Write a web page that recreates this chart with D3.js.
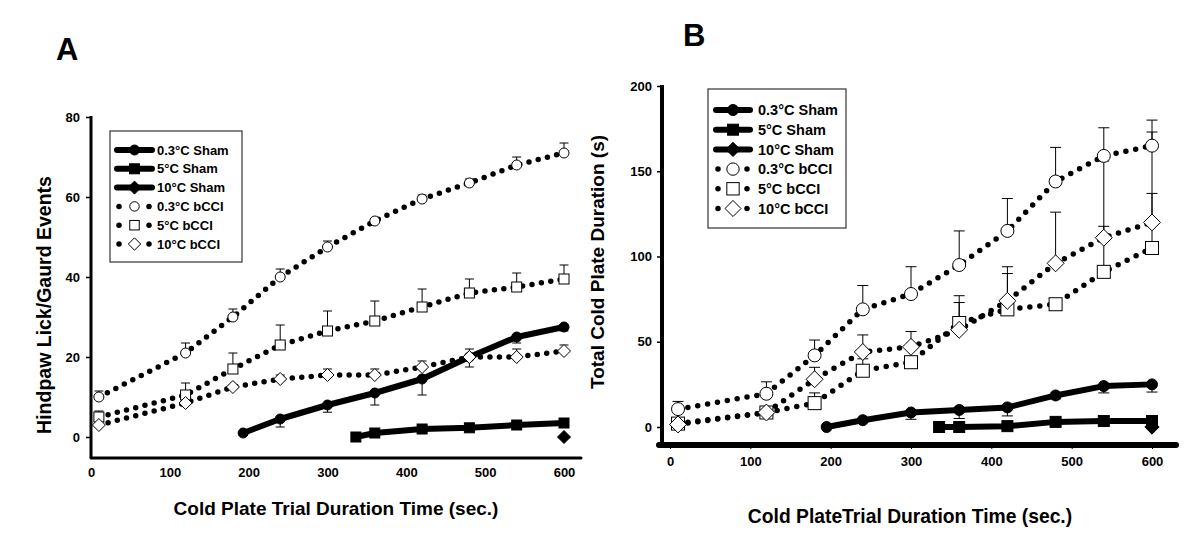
<!DOCTYPE html>
<html><head><meta charset="utf-8">
<script src="https://cdn.jsdelivr.net/npm/d3@7"></script>
<style>
html,body{margin:0;padding:0;background:#fff;}
svg text{font-family:"Liberation Sans",Arial,Helvetica,sans-serif;font-weight:bold;fill:#000;}
</style></head>
<body><svg id="chart" width="1200" height="551"></svg>
<script>
// ---------- DATA ----------
const bcciTimes = [10,120,180,240,300,360,420,480,540,600];
const xTicks = [0,100,200,300,400,500,600];
const yTicksA = [0,20,40,60,80];
const yTicksB = [0,50,100,150,200];
const legendLabels = ["0.3°C Sham","5°C Sham","10°C Sham","0.3°C bCCI","5°C bCCI","10°C bCCI"];

// Panel A: Hindpaw Lick/Guard events
const A_bcci03 = [10,21,30,40,47.5,54,59.5,63.5,68,71];
const A_bcci03Err = [1.5,2.5,2,2,1.5,0.5,1,1,2,2.5];
const A_bcci5 = [5,10.5,17,23,26.5,29,32.5,36,37.5,39.5];
const A_bcci5Err = [1.5,3,4,5,5,5,4.5,3.5,3.5,3.5];
const A_bcci10 = [3,8.5,12.5,14.5,15.5,15.5,17.5,20,20,21.5];
const A_bcci10Err = [0.5,0.5,0.5,1,1.5,1.5,1.5,2,2,1.5];
const A_sham03Times = [193,240,300,360,420,480,540,600];
const A_sham03 = [1,4.5,8,11,14.5,20,25,27.5];
const A_sham03Err = [0,2,1.8,3,4,2.5,1.5,1];
const A_sham5Times = [336,360,420,480,540,600];
const A_sham5 = [0,1,2,2.3,3,3.5];
const A_sham5Err = [0,0,0,0,0,0];
const A_sham10Times = [600];
const A_sham10 = [0];
const A_sham10Err = [0];

// Panel B: Total cold plate duration (s)
const B_bcci03 = [10.5,19.5,42,69,78,95,115,144,159,165];
const B_bcci03Err = [4.5,7,9,14,16,20,19,20,16.5,15];
const B_bcci5 = [2,8.5,14,33,38,61,69,72,91,105];
const B_bcci5Err = [2,1.5,6,7,1,16,21,1,65,68];
const B_bcci10 = [1.5,8.5,28,44,47,57,74,96,111,120];
const B_bcci10Err = [1.5,3,7,10,9,16,20,30,6.7,17];
const B_sham03Times = [195,240,300,360,420,480,540,600];
const B_sham03 = [0,4,8.5,10,11.5,18.5,24,25];
const B_sham03Err = [0,1,4,5,5,2,4,4.5];
const B_sham5Times = [335,360,420,480,540,600];
const B_sham5 = [0,0,0.5,3,3.5,3.5];
const B_sham5Err = [0,0,0,1.5,0.5,0.5];
const B_sham10Times = [600];
const B_sham10 = [0];
const B_sham10Err = [0];

// ---------- DRAW ----------
const svg = d3.select("#chart");

function zip(xs, ys, es){ return xs.map((x,i)=>({x:x, y:ys[i], e:es[i]})); }

function marker(g, shape, cx, cy, size, filled){
  let el;
  if(shape==="circle"){
    el = g.append("circle").attr("cx",cx).attr("cy",cy).attr("r",size);
  } else if(shape==="square"){
    el = g.append("rect").attr("x",cx-size).attr("y",cy-size).attr("width",2*size).attr("height",2*size);
  } else {
    const s = size*1.3;
    el = g.append("path").attr("d",`M${cx},${cy-s}L${cx+s},${cy}L${cx},${cy+s}L${cx-s},${cy}Z`);
  }
  el.attr("fill", filled ? "#000" : "#fff").attr("stroke","#000").attr("stroke-width",1);
}

function panel(cfg){
  const g = svg.append("g");
  const x = d3.scaleLinear().domain([0,600]).range(cfg.xRange);
  const y = d3.scaleLinear().domain(cfg.yDomain).range(cfg.yRange);

  const ya = g.append("g").attr("transform",`translate(${x(0)-cfg.yAxisOffset},0)`)
    .call(d3.axisLeft(y).tickValues(cfg.yTicks).tickSize(cfg.yTickSize).tickPadding(cfg.yTickPad));
  ya.select(".domain").remove();
  ya.selectAll(".tick line").attr("stroke-width",1.5);
  ya.selectAll(".tick text").style("font-size",cfg.tickFont+"px");

  const xa = g.append("g").attr("transform",`translate(0,${cfg.xAxisY})`)
    .call(d3.axisBottom(x).tickValues(xTicks).tickSize(cfg.xTickSize).tickPadding(cfg.xTickPad));
  xa.select(".domain").remove();
  xa.selectAll(".tick line").attr("stroke-width",1);
  xa.selectAll(".tick text").style("font-size",cfg.tickFont+"px");

  g.append("line").attr("x1",x(0)-cfg.yAxisOffset).attr("x2",x(0)-cfg.yAxisOffset)
    .attr("y1",y(cfg.yDomain[1])-1).attr("y2",cfg.xAxisY)
    .attr("stroke","#000").attr("stroke-width",cfg.yAxisW);
  g.append("line").attr("x1",cfg.xAxisX0).attr("x2",cfg.xAxisX1)
    .attr("y1",cfg.xAxisY).attr("y2",cfg.xAxisY)
    .attr("stroke","#000").attr("stroke-width",cfg.xAxisW).attr("stroke-linecap","round");

  g.append("text").attr("x",cfg.letterX).attr("y",cfg.letterY).style("font-size","31px").text(cfg.letter);
  g.append("text").attr("x",cfg.xTitleX).attr("y",cfg.xTitleY).attr("text-anchor","middle")
    .style("font-size",cfg.xTitleFont+"px").text(cfg.xTitle);
  g.append("text").attr("transform",`translate(${cfg.yTitleX},${cfg.yTitleY}) rotate(-90)`)
    .attr("text-anchor","middle").style("font-size",cfg.yTitleFont+"px").text(cfg.yTitle);

  const line = d3.line().x(d=>x(d.x)).y(d=>y(d.y));

  cfg.series.forEach(s=>{
    zip(s.t, s.v, s.e).forEach(d=>{
      if(!d.e) return;
      const y2 = s.dir<0 ? y(d.y - d.e) : y(d.y + d.e);
      g.append("line").attr("x1",x(d.x)).attr("x2",x(d.x)).attr("y1",y(d.y)).attr("y2",y2)
        .attr("stroke","#000").attr("stroke-width",1);
      g.append("line").attr("x1",x(d.x)-cfg.cap).attr("x2",x(d.x)+cfg.cap).attr("y1",y2).attr("y2",y2)
        .attr("stroke","#000").attr("stroke-width",1);
    });
  });
  cfg.series.forEach(s=>{
    const data = zip(s.t, s.v, s.e);
    if(data.length<2) return;
    const p = g.append("path").datum(data).attr("d",line).attr("fill","none").attr("stroke","#000");
    if(s.dotted){
      p.attr("stroke-width",cfg.dotW).attr("stroke-linecap","round").attr("stroke-dasharray",`0 ${cfg.dotGap}`);
    } else {
      p.attr("stroke-width",cfg.solidW).attr("stroke-linejoin","round").attr("stroke-linecap","round");
    }
  });
  cfg.series.forEach(s=>{
    zip(s.t, s.v, s.e).forEach(d=>{
      marker(g, s.shape, x(d.x), y(d.y), s.filled?cfg.fillSize:cfg.openSize, s.filled);
    });
  });

  const L = cfg.legend;
  g.append("rect").attr("x",L.x).attr("y",L.y).attr("width",L.w).attr("height",L.h)
    .attr("fill","#fff").attr("stroke","#333").attr("stroke-width",1.2);
  cfg.series.forEach((s,i)=>{
    const ry = L.y + L.row0 + i*L.dy;
    const sx0 = L.x + L.sx0, sx1 = L.x + L.sx1, cx = (sx0+sx1)/2;
    if(s.dotted){
      g.append("circle").attr("cx",sx0+2).attr("cy",ry).attr("r",cfg.dotW/2);
      g.append("circle").attr("cx",sx1-3).attr("cy",ry).attr("r",cfg.dotW/2);
      marker(g, s.shape, cx, ry, cfg.openSize*0.95, false);
    } else {
      g.append("line").attr("x1",sx0).attr("x2",sx1).attr("y1",ry).attr("y2",ry)
        .attr("stroke","#000").attr("stroke-width",cfg.solidW).attr("stroke-linecap","round");
      marker(g, s.shape, cx, ry, cfg.fillSize, true);
    }
    g.append("text").attr("x",L.x+L.tx).attr("y",ry).attr("dy","0.36em")
      .style("font-size",L.font+"px").text(legendLabels[i]);
  });
}

function seriesList(p){
  return [
    {t:p.s03t, v:p.s03, e:p.s03e, shape:"circle", filled:true, dotted:false, dir:-1},
    {t:p.s5t, v:p.s5, e:p.s5e, shape:"square", filled:true, dotted:false, dir:-1},
    {t:p.s10t, v:p.s10, e:p.s10e, shape:"diamond", filled:true, dotted:false, dir:-1},
    {t:bcciTimes, v:p.b03, e:p.b03e, shape:"circle", filled:false, dotted:true, dir:1},
    {t:bcciTimes, v:p.b5, e:p.b5e, shape:"square", filled:false, dotted:true, dir:1},
    {t:bcciTimes, v:p.b10, e:p.b10e, shape:"diamond", filled:false, dotted:true, dir:1}
  ];
}

panel({
  letter:"A", letterX:56, letterY:60,
  xRange:[91,564], yDomain:[0,80], yRange:[437,117], yTicks:yTicksA,
  yAxisOffset:0, yTickSize:5, yTickPad:6, xTickSize:0, xTickPad:10, xAxisY:458, xAxisX0:91, xAxisX1:581,
  yAxisW:3, xAxisW:3, tickFont:13, xTitleFont:19, yTitleFont:19.5,
  xTitle:"Cold Plate Trial Duration Time (sec.)", xTitleX:336, xTitleY:515,
  yTitle:"Hindpaw Lick/Gaurd Events", yTitleX:51, yTitleY:305,
  cap:4.5, dotW:5.5, dotGap:9.5, solidW:6, openSize:5, fillSize:5,
  series: seriesList({s03t:A_sham03Times,s03:A_sham03,s03e:A_sham03Err,
    s5t:A_sham5Times,s5:A_sham5,s5e:A_sham5Err,s10t:A_sham10Times,s10:A_sham10,s10e:A_sham10Err,
    b03:A_bcci03,b03e:A_bcci03Err,b5:A_bcci5,b5e:A_bcci5Err,b10:A_bcci10,b10e:A_bcci10Err}),
  legend:{x:110,y:131,w:132,h:131,row0:19,dy:18.8,sx0:7,sx1:42,tx:47,font:13}
});

panel({
  letter:"B", letterX:683, letterY:46,
  xRange:[670,1152], yDomain:[0,200], yRange:[427,86], yTicks:yTicksB,
  yAxisOffset:8, yTickSize:5, yTickPad:5, xTickSize:4, xTickPad:8, xAxisY:445, xAxisX0:659, xAxisX1:1176,
  yAxisW:4, xAxisW:6, tickFont:13, xTitleFont:19.3, yTitleFont:19,
  xTitle:"Cold PlateTrial Duration Time (sec.)", xTitleX:910, xTitleY:523,
  yTitle:"Total Cold Plate Duration (s)", yTitleX:604, yTitleY:262,
  cap:5.5, dotW:5.5, dotGap:10, solidW:6, openSize:6.5, fillSize:5.5,
  series: seriesList({s03t:B_sham03Times,s03:B_sham03,s03e:B_sham03Err,
    s5t:B_sham5Times,s5:B_sham5,s5e:B_sham5Err,s10t:B_sham10Times,s10:B_sham10,s10e:B_sham10Err,
    b03:B_bcci03,b03e:B_bcci03Err,b5:B_bcci5,b5e:B_bcci5Err,b10:B_bcci10,b10e:B_bcci10Err}),
  legend:{x:708,y:89,w:138,h:139,row0:21,dy:19.7,sx0:8,sx1:42,tx:50,font:14.5}
});
</script></body></html>
